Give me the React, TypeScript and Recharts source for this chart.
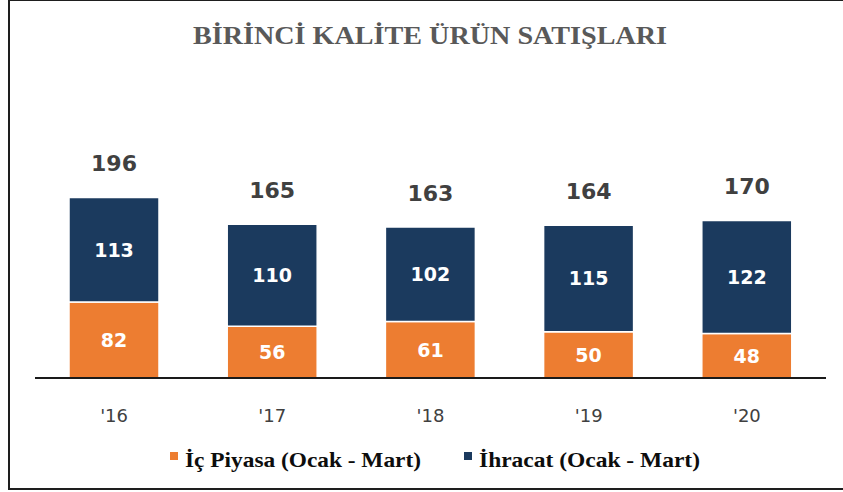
import React from 'react';
import { BarChart, Bar, XAxis, YAxis, LabelList, Legend } from 'recharts';

const years = ["'16", "'17", "'18", "'19", "'20"];
const domestic = [82, 56, 61, 50, 48];
const exportVals = [113, 110, 102, 115, 122];
const totals = [196, 165, 163, 164, 170];
const seriesNames = ['İç Piyasa (Ocak - Mart)', 'İhracat (Ocak - Mart)'];
const chartTitle = 'BİRİNCİ KALİTE ÜRÜN SATIŞLARI';

const ORANGE = '#ED7D31';
const NAVY = '#1B3A5E';
const seriesColors = [ORANGE, NAVY];

const data = years.map((y, i) => ({ year: y, ic: domestic[i], ihr: exportVals[i], total: totals[i] }));

const TotalLabel = (props: any) => {
  const { x, y, width, value } = props;
  return (
    <text
      x={Number(x) + Number(width) / 2}
      y={Number(y) - 34}
      textAnchor="middle"
      dominantBaseline="central"
      fontFamily="'DejaVu Sans', sans-serif"
      fontWeight="bold"
      fontSize={22}
      fill="#404040"
    >
      {value}
    </text>
  );
};

const InnerLabel = (props: any) => {
  const { x, y, width, height, value } = props;
  return (
    <text
      x={Number(x) + Number(width) / 2}
      y={Number(y) + Number(height) / 2}
      textAnchor="middle"
      dominantBaseline="central"
      fontFamily="'DejaVu Sans', sans-serif"
      fontWeight="bold"
      fontSize={19}
      fill="#ffffff"
    >
      {value}
    </text>
  );
};

const legendLayout = [
  { sx: 170, tx: 185, len: 236 },
  { sx: 464, tx: 479, len: 221 },
];

const LegendContent = (props: any) => {
  const payload = props.payload || [];
  return (
    <svg width={843} height={40} style={{ display: 'block' }}>
      {seriesNames.map((name, i) => {
        const l = legendLayout[i];
        const p = payload.find((q: any) => q.value === name);
        const color = p ? p.color : seriesColors[i];
        return (
          <g key={i}>
            <rect x={l.sx} y={12} width={8} height={8} fill={color} />
            <text
              x={l.tx}
              y={26.5}
              textLength={l.len}
              lengthAdjust="spacingAndGlyphs"
              fontFamily="'Liberation Serif', 'Times New Roman', serif"
              fontWeight="bold"
              fontSize={22}
              fill="#0d0d0d"
            >
              {name}
            </text>
          </g>
        );
      })}
    </svg>
  );
};

export default function App() {
  return (
    <div
      style={{
        position: 'absolute',
        left: 0,
        top: 0,
        width: 843,
        height: 492,
        overflow: 'hidden',
        background: '#ffffff',
      }}
    >
      <div
        style={{
          position: 'absolute',
          left: 8,
          top: -1,
          width: 880,
          height: 491,
          border: '2px solid #1e1e1e',
          boxSizing: 'border-box',
        }}
      />
      <svg
        width={843}
        height={60}
        style={{ position: 'absolute', left: 0, top: 0, pointerEvents: 'none' }}
      >
        <text
          x={193}
          y={44}
          textLength={474}
          lengthAdjust="spacingAndGlyphs"
          fontFamily="'Liberation Serif', 'Times New Roman', serif"
          fontWeight="bold"
          fontSize={26}
          fill="#595959"
        >
          {chartTitle}
        </text>
      </svg>
      <div style={{ position: 'absolute', left: 0, top: 0 }}>
        <BarChart
          width={843}
          height={492}
          data={data}
          margin={{ top: 146.5, right: 17, bottom: 0, left: 35 }}
        >
          <XAxis
            dataKey="year"
            axisLine={{ stroke: '#1a1a1a', strokeWidth: 2 }}
            tickLine={false}
            tickMargin={25}
            tick={{ fontFamily: "'DejaVu Sans', sans-serif", fontSize: 18, fill: '#404040' }}
            height={114}
          />
          <YAxis hide domain={[0, 250]} />
          <Legend
            layout="horizontal"
            verticalAlign="middle"
            align="center"
            content={<LegendContent />}
            wrapperStyle={{ top: 440, left: 0, width: 843, height: 40 }}
          />
          <Bar
            dataKey="ic"
            name={seriesNames[0]}
            stackId="a"
            fill={ORANGE}
            stroke="#ffffff"
            strokeWidth={1.5}
            barSize={90}
            isAnimationActive={false}
          >
            <LabelList dataKey="ic" content={<InnerLabel />} />
          </Bar>
          <Bar
            dataKey="ihr"
            name={seriesNames[1]}
            stackId="a"
            fill={NAVY}
            stroke="#ffffff"
            strokeWidth={1.5}
            barSize={90}
            isAnimationActive={false}
          >
            <LabelList dataKey="ihr" content={<InnerLabel />} />
            <LabelList dataKey="total" content={<TotalLabel />} />
          </Bar>
        </BarChart>
      </div>
    </div>
  );
}
